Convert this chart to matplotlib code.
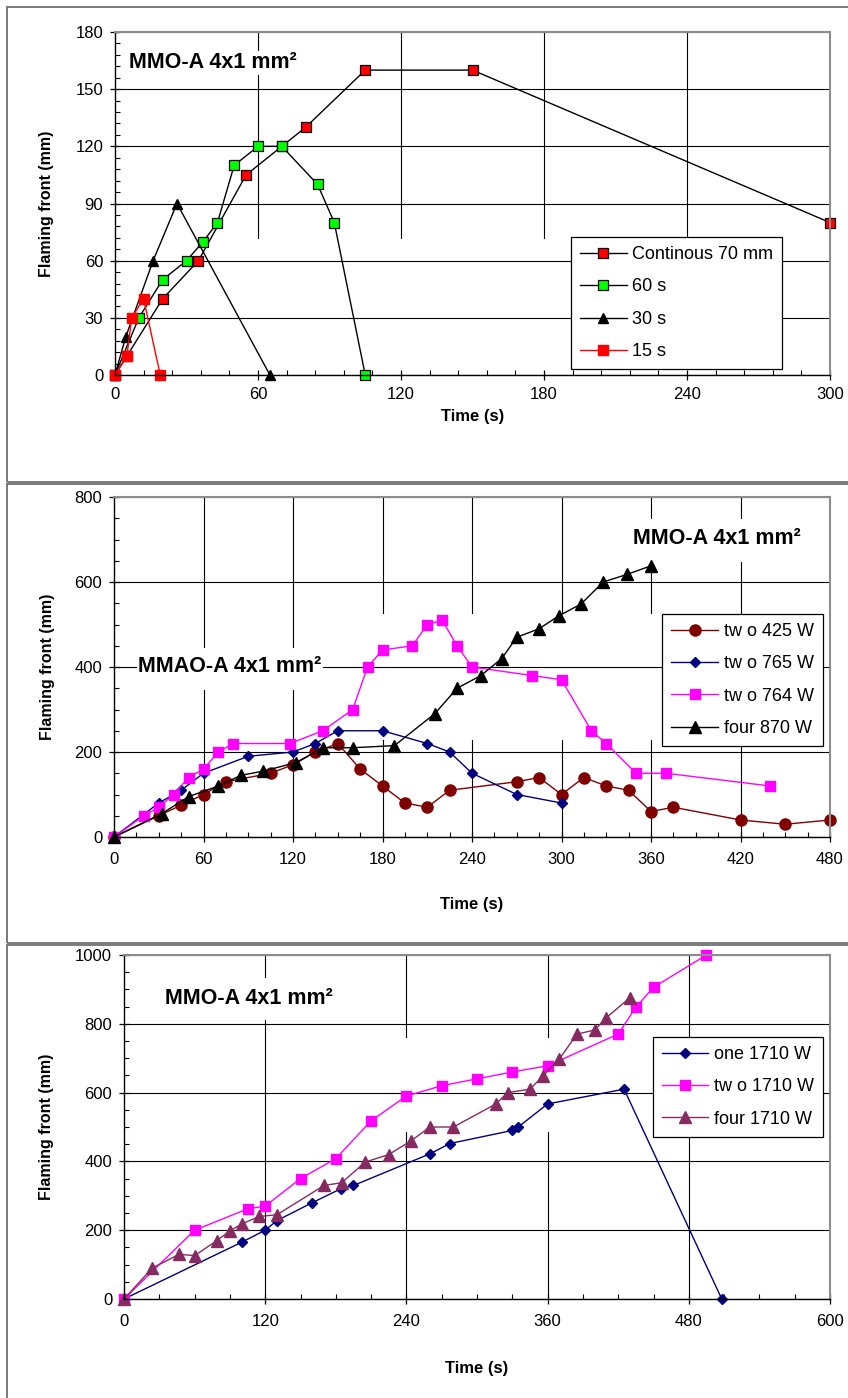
import matplotlib
matplotlib.use("Agg")
import matplotlib.pyplot as plt
from matplotlib.patches import Rectangle
from matplotlib.ticker import MultipleLocator

plt.rcParams['font.family'] = ['Liberation Sans', 'DejaVu Sans']

W, H = 848, 1398

# ---------------- chart 1: MMO-A 4x1 mm2, exposure duration
t_cont = [0, 5, 20, 35, 55, 70, 80, 105, 150, 300]
f_cont = [0, 10, 40, 60, 105, 120, 130, 160, 160, 80]
t_60 = [0, 10, 20, 30, 37, 43, 50, 60, 70, 85, 92, 105]
f_60 = [0, 30, 50, 60, 70, 80, 110, 120, 120, 100, 80, 0]
t_30 = [0, 4.5, 16, 26, 65]
f_30 = [0, 20, 60, 90, 0]
t_15 = [0, 5, 7, 12, 19]
f_15 = [0, 10, 30, 40, 0]

# ---------------- chart 2: number of sources / power
t_425 = [0, 30, 45, 60, 75, 105, 120, 135, 150, 165, 180, 195, 210, 225,
         270, 285, 300, 315, 330, 345, 360, 375, 420, 450, 480]
f_425 = [0, 50, 75, 100, 130, 150, 170, 200, 220, 160, 120, 80, 70, 110,
         130, 140, 100, 140, 120, 110, 60, 70, 40, 30, 40]
t_765 = [0, 30, 45, 60, 90, 120, 135, 150, 180, 210, 225, 240, 270, 300]
f_765 = [0, 80, 110, 150, 190, 200, 220, 250, 250, 220, 200, 150, 100, 80]
t_764 = [0, 20, 30, 40, 50, 60, 70, 80, 118, 140, 160, 170, 180, 200, 210,
         220, 230, 240, 280, 300, 320, 330, 350, 370, 440]
f_764 = [0, 50, 70, 100, 140, 160, 200, 220, 220, 250, 300, 400, 440, 450,
         500, 510, 450, 400, 380, 370, 250, 220, 150, 150, 120]
t_870 = [0, 32, 50, 70, 85, 100, 122, 140, 160, 188, 215, 230, 246, 260,
         270, 285, 298, 313, 328, 344, 360]
f_870 = [0, 55, 95, 120, 145, 155, 175, 210, 210, 215, 290, 350, 380, 420,
         470, 490, 520, 548, 600, 618, 638]

# ---------------- chart 3: 1710 W sources
t_one = [0, 100, 120, 130, 160, 184, 195, 260, 277, 330, 335, 360, 425, 508]
f_one = [0, 165, 200, 228, 280, 320, 330, 422, 452, 490, 500, 567, 610, 0]
t_two = [0, 60, 105, 120, 150, 180, 210, 240, 270, 300, 330, 360, 420, 435,
         450, 495]
f_two = [0, 200, 262, 270, 350, 408, 518, 590, 620, 640, 660, 678, 770, 848,
         906, 1000]
t_four = [0, 24, 47, 60, 79, 90, 100, 115, 130, 170, 185, 205, 225, 244, 260,
          280, 316, 326, 345, 356, 370, 385, 400, 410, 430]
f_four = [0, 90, 130, 126, 170, 198, 218, 240, 245, 330, 338, 398, 420, 460,
          500, 500, 567, 600, 610, 648, 698, 770, 782, 818, 876]

YLABEL = 'Flaming front (mm)'
XLABEL = 'Time (s)'
TITLE = 'MMO-A 4x1 mm²'


def px_axes(left, top, right, bottom):
    return [left / W, (H - bottom) / H, (right - left) / W, (bottom - top) / H]


def style_axes(ax, xmax, xmaj, xmin, ymax, ymaj, ymin, xlab_y, ylab_x, xpad):
    ax.set_xlim(0, xmax)
    ax.set_ylim(0, ymax)
    ax.xaxis.set_major_locator(MultipleLocator(xmaj))
    ax.xaxis.set_minor_locator(MultipleLocator(xmin))
    ax.yaxis.set_major_locator(MultipleLocator(ymaj))
    ax.yaxis.set_minor_locator(MultipleLocator(ymin))
    ax.tick_params(which='major', direction='inout', length=7, width=0.9,
                   labelsize=12, pad=5)
    ax.tick_params(axis='x', which='major', pad=xpad)
    ax.tick_params(which='minor', direction='in', length=3.5, width=0.8)
    ax.tick_params(top=False, right=False, which='both')
    for s in ('top', 'right'):
        ax.spines[s].set_color('#8c8c8c')
        ax.spines[s].set_linewidth(1.5)
    for s in ('left', 'bottom'):
        ax.spines[s].set_color('black')
        ax.spines[s].set_linewidth(1.0)
    ax.grid(axis='y', which='major', color='black', lw=0.8)
    ax.set_axisbelow(True)
    ax.set_ylabel(YLABEL, fontsize=11.5, fontweight='bold')
    ax.set_xlabel(XLABEL, fontsize=12, fontweight='bold')
    ax.yaxis.set_label_coords(ylab_x, 0.5)
    ax.xaxis.set_label_coords(0.5, xlab_y)


def vgrid(ax, xs, hidden, top):
    # vertical gridlines, broken where the boxes sit
    for x in xs:
        lo = 0
        for a, b in sorted(hidden.get(x, [])):
            ax.plot([x, x], [lo, a], color='black', lw=0.8, zorder=0.5)
            lo = b
        ax.plot([x, x], [lo, top], color='black', lw=0.8, zorder=0.5)


def boxed_text(ax, x, y, s):
    ax.text(x, y, s, transform=ax.transAxes, fontsize=15.5,
            fontweight='bold', ha='left', va='center', zorder=4,
            bbox=dict(facecolor='white', edgecolor='none', pad=1))


def add_legend(ax, anchor):
    leg = ax.legend(loc='upper right', bbox_to_anchor=anchor, fontsize=13,
                    frameon=True, fancybox=False, edgecolor='black',
                    framealpha=1, handlelength=2.6, handletextpad=0.3,
                    labelspacing=0.85, borderpad=0.5, borderaxespad=0)
    leg.get_frame().set_linewidth(0.9)
    leg.set_zorder(5)


fig = plt.figure(figsize=(W / 100, H / 100), dpi=100)

# panel frames
for top, bottom in [(7, 482), (484, 943), (945, 1460)]:
    fig.add_artist(Rectangle((7 / W, (H - bottom) / H), 1.2, (bottom - top) / H,
                             transform=fig.transFigure, fill=False,
                             edgecolor='#707070', lw=1.3))

# ---- chart 1
ax1 = fig.add_axes(px_axes(115, 32, 830, 375))
style_axes(ax1, 300, 60, 12, 180, 30, 6, -0.1, -0.085, 5)
vgrid(ax1, [60, 120, 180, 240], {x: [(0, 72)] for x in [60, 120, 180, 240]}, 180)
ax1.plot(t_cont, f_cont, color='black', lw=1, marker='s', ms=7.5,
         mfc='#ff0000', mec='black', mew=0.9, label='Continous 70 mm', clip_on=False)
ax1.plot(t_60, f_60, color='black', lw=1, marker='s', ms=7.5,
         mfc='#00ff00', mec='black', mew=0.9, label='60 s', clip_on=False)
ax1.plot(t_30, f_30, color='black', lw=1, marker='^', ms=7.5,
         mfc='black', mec='black', label='30 s', clip_on=False)
ax1.plot(t_15, f_15, color='#ff0000', lw=1, marker='s', ms=7.5,
         mfc='#ff0000', mec='#ff0000', label='15 s', clip_on=False)
boxed_text(ax1, 0.02, 0.91, TITLE)
add_legend(ax1, (0.933, 0.402))

# ---- chart 2
ax2 = fig.add_axes(px_axes(114, 497, 830, 837))
style_axes(ax2, 480, 60, 15, 800, 200, 50, -0.176, -0.083, 7)
hid2 = {60: [(346, 447)], 120: [(346, 447)], 180: [(228, 527)],
        240: [(228, 527)], 300: [(228, 527)],
        360: [(228, 527), (647, 750)], 420: [(228, 527), (647, 750)]}
vgrid(ax2, [60, 120, 180, 240, 300, 360, 420], hid2, 800)
ax2.plot(t_425, f_425, color='#800000', lw=1, marker='o', ms=8,
         mfc='#800000', mec='#800000', label='tw o 425 W', clip_on=False)
ax2.plot(t_765, f_765, color='#000080', lw=1, marker='D', ms=5.5,
         mfc='#000080', mec='#000080', label='tw o 765 W', clip_on=False)
ax2.plot(t_764, f_764, color='#ff00ff', lw=1, marker='s', ms=7.5,
         mfc='#ff00ff', mec='#ff00ff', label='tw o 764 W', clip_on=False)
ax2.plot(t_870, f_870, color='black', lw=1, marker='^', ms=8,
         mfc='black', mec='black', label='four 870 W', clip_on=False)
boxed_text(ax2, 0.725, 0.879, TITLE)
boxed_text(ax2, 0.034, 0.5, 'MMAO-A 4x1 mm²')
add_legend(ax2, (0.99, 0.656))

# ---- chart 3
ax3 = fig.add_axes(px_axes(124, 955, 830, 1299))
style_axes(ax3, 600, 120, 30, 1000, 200, 50, -0.18, -0.099, 7)
hid3 = {120: [(811, 936)], 240: [(485, 762)], 360: [(485, 762)]}
vgrid(ax3, [120, 240, 360, 480], hid3, 1000)
ax3.plot(t_one, f_one, color='#000080', lw=1, marker='D', ms=5.5,
         mfc='#000080', mec='#000080', label='one 1710 W', clip_on=False)
ax3.plot(t_two, f_two, color='#ff00ff', lw=1, marker='s', ms=7.5,
         mfc='#ff00ff', mec='#ff00ff', label='tw o 1710 W', clip_on=False)
ax3.plot(t_four, f_four, color='#862a62', lw=1, marker='^', ms=8,
         mfc='#862a62', mec='#862a62', label='four 1710 W', clip_on=False)
boxed_text(ax3, 0.058, 0.875, TITLE)
add_legend(ax3, (0.99, 0.762))

fig.savefig('out.png', dpi=100)
